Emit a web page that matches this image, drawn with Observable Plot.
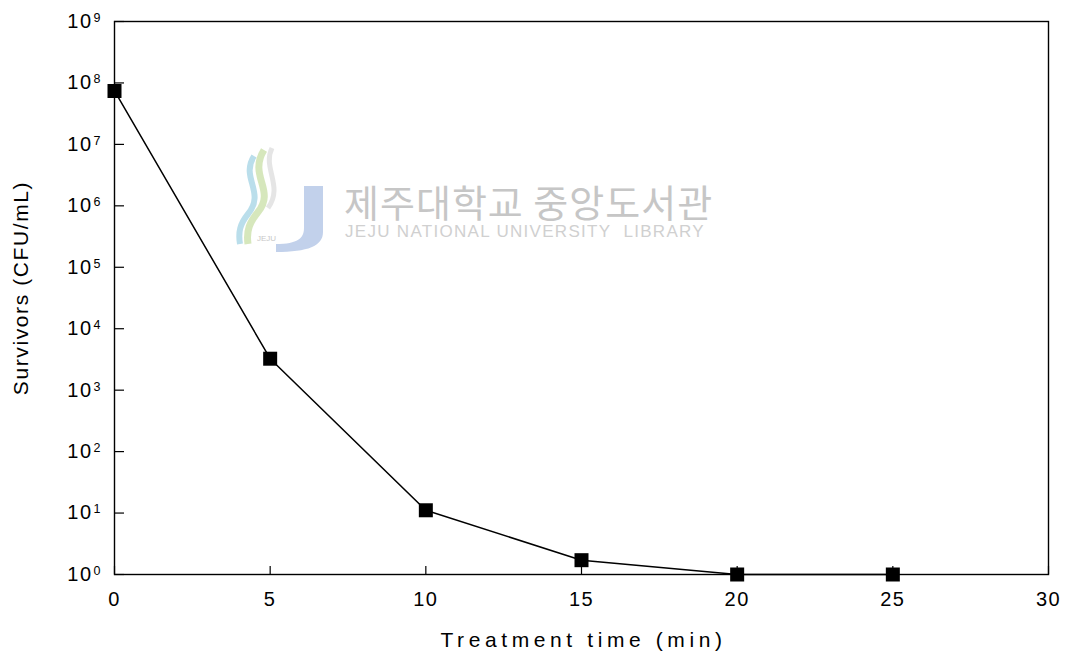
<!DOCTYPE html>
<html>
<head>
<meta charset="utf-8">
<script src="https://cdn.jsdelivr.net/npm/d3@7"></script>
<script src="https://cdn.jsdelivr.net/npm/@observablehq/plot@0.6"></script>
<style>
  body { margin: 0; background: #fff; }
  #chart { position: relative; width: 1067px; height: 660px; }
  #chart svg.plot { display: block; }
  .wm { position: absolute; pointer-events: none; white-space: nowrap; }
  .wm-text { left: 344px; top: 182px; font-family: "Noto Sans CJK KR", sans-serif; font-size: 38px; line-height: 38px; color: #c6c6c6; letter-spacing: 1px; }
  .wm-text .en { display: inline-block; margin-left: 1px; margin-top: 3px; font-family: "Liberation Sans", Arial, sans-serif; font-size: 17px; line-height: 17px; color: #d0d0d0; letter-spacing: 1.3px; vertical-align: top; }
  .wm-logo { left: 228px; top: 146px; }
</style>
</head>
<body>
<div id="chart">
  <svg class="wm wm-logo" width="100" height="110" viewBox="0 0 100 110">
    <path d="M36 4 C20 30, 48 44, 30 66 C22 76, 18 84, 20 98" fill="none" stroke="#cfe3b0" stroke-width="7" opacity="0.85"/>
    <path d="M26 10 C12 32, 38 46, 20 68 C12 78, 10 86, 12 98" fill="none" stroke="#a9d6e6" stroke-width="6" opacity="0.8"/>
    <path d="M44 2 C34 22, 56 40, 40 62" fill="none" stroke="#e2e2e2" stroke-width="5" opacity="0.9"/>
    <path d="M76 40 L95 40 L95 86 C95 100, 80 106, 48 106 L48 98 C70 98, 76 92, 76 82 Z" fill="#b7c9e8" opacity="0.85"/>
    <text x="29" y="95" font-size="8" font-family="Liberation Sans, sans-serif" fill="#c7c7c7">JEJU</text>
  </svg>
  <div class="wm wm-text">제주대학교 중앙도서관<br><span class="en">JEJU NATIONAL UNIVERSITY&nbsp;&nbsp;LIBRARY</span></div>
</div>
<script>
// Survival of cells over treatment time
const times = [0, 5, 10, 15, 20, 25];
const survivors = [7.4e7, 3.25e3, 11.1, 1.71, 1, 1];

// Axis ticks
const xTicks = [0, 5, 10, 15, 20, 25, 30];
const yExponents = [0, 1, 2, 3, 4, 5, 6, 7, 8, 9];
const yTicks = yExponents.map((e) => 10 ** e);

const xTitle = "Treatment time (min)";
const yTitle = "Survivors (CFU/mL)";

const data = times.map((t, i) => ({t, v: survivors[i]}));

const font = "'Liberation Sans', Arial, Helvetica, sans-serif";

const plot = Plot.plot({
  width: 1067,
  height: 660,
  marginLeft: 114,
  marginRight: 19,
  marginTop: 21,
  marginBottom: 86,
  style: {fontFamily: font, color: "#000", background: "#fff", overflow: "visible"},
  x: {domain: [0, 30], label: null},
  y: {type: "log", domain: [1, 1e9], label: null},
  marks: [
    // inward ticks
    Plot.axisX({ticks: xTicks, tickSize: -8, fill: "none", label: null, strokeWidth: 1.2}),
    Plot.axisY({ticks: yTicks, tickSize: -10, fill: "none", label: null, strokeWidth: 1.2}),
    // tick labels
    Plot.axisX({ticks: xTicks, tickSize: 0, tickPadding: 17, fontSize: 20, label: null, tickFormat: (d) => String(d)}),
    Plot.axisY({ticks: yTicks, tickSize: 0, tickPadding: 14, fontSize: 20, label: null,
      tickFormat: (d) => "10^" + Math.round(Math.log10(d))}),
    Plot.frame({stroke: "#000", strokeWidth: 1.4}),
    Plot.line(data, {x: "t", y: "v", stroke: "#000", strokeWidth: 1.5}),
    Plot.dot(data, {x: "t", y: "v", symbol: "square", r: 7.9, fill: "#000", stroke: "none"}),
    // axis titles
    Plot.text([xTitle], {frameAnchor: "bottom", textAnchor: "middle", lineAnchor: "middle", dx: 2, dy: 66, fontSize: 21, fill: "#000"}),
    Plot.text([yTitle], {frameAnchor: "left", textAnchor: "middle", lineAnchor: "middle", dx: -93, dy: -10, rotate: -90, fontSize: 21, fill: "#000"})
  ]
});

document.getElementById("chart").prepend(plot);

const svg = d3.select(plot);

// superscript exponents on the log axis labels
svg.selectAll('g[aria-label="y-axis tick label"] text').each(function () {
  const parts = this.textContent.split("^");
  if (parts.length !== 2) return;
  const el = d3.select(this);
  el.text(parts[0]).attr("letter-spacing", "1.5px");
  el.append("tspan").attr("dx", "1").attr("dy", "-6").attr("font-size", 12.5)
    .attr("letter-spacing", "0px").text(parts[1]);
});

svg.selectAll('g[aria-label="x-axis tick label"] text').attr("letter-spacing", "1.5px");
svg.selectAll("text").filter(function () { return this.textContent === xTitle; }).attr("letter-spacing", "4.6px");
svg.selectAll("text").filter(function () { return this.textContent === yTitle; }).attr("letter-spacing", "1.6px");
</script>
</body>
</html>
